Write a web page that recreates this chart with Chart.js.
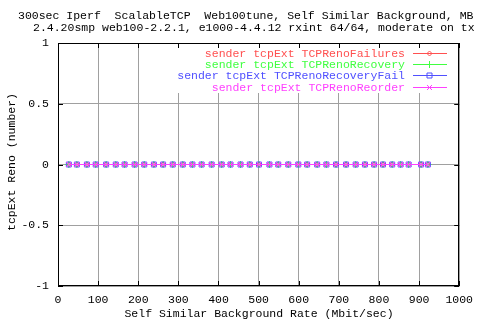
<!DOCTYPE html>
<html>
<head>
<meta charset="utf-8">
<script src="https://cdn.jsdelivr.net/npm/chart.js@4.4.1/dist/chart.umd.min.js"></script>
<style>
  html, body { margin: 0; padding: 0; background: #fff; }
  #wrap { width: 480px; height: 320px; }
</style>
</head>
<body>
<div id="wrap"><canvas id="myChart" width="480" height="320"></canvas></div>
<script>
// Chart data
const titleLines = [
    '300sec Iperf  ScalableTCP  Web100tune, Self Similar Background, MB',
    '2.4.20smp web100-2.2.1, e1000-4.4.12 rxint 64/64, moderate on tx'
];
const xTitle = 'Self Similar Background Rate (Mbit/sec)';
const yTitle = 'tcpExt Reno (number)';

const seriesNames = [
    'sender tcpExt TCPRenoFailures',
    'sender tcpExt TCPRenoRecovery',
    'sender tcpExt TCPRenoRecoveryFail',
    'sender tcpExt TCPRenoReorder'
];

// background rate (Mbit/sec) of each test run
const rates = [27, 47, 72, 94, 120, 144, 166, 191, 215, 239, 262, 286, 311, 335, 358, 383, 408, 430, 455, 478,
    501, 527, 549, 574, 599, 621, 646, 669, 693, 718, 742, 765, 788, 810, 833, 854, 874, 905, 922];

const renoFailures = [0, 0, 0, 0, 0, 0, 0, 0, 0, 0, 0, 0, 0, 0, 0, 0, 0, 0, 0, 0,
    0, 0, 0, 0, 0, 0, 0, 0, 0, 0, 0, 0, 0, 0, 0, 0, 0, 0, 0];
const renoRecovery = [0, 0, 0, 0, 0, 0, 0, 0, 0, 0, 0, 0, 0, 0, 0, 0, 0, 0, 0, 0,
    0, 0, 0, 0, 0, 0, 0, 0, 0, 0, 0, 0, 0, 0, 0, 0, 0, 0, 0];
const renoRecoveryFail = [0, 0, 0, 0, 0, 0, 0, 0, 0, 0, 0, 0, 0, 0, 0, 0, 0, 0, 0, 0,
    0, 0, 0, 0, 0, 0, 0, 0, 0, 0, 0, 0, 0, 0, 0, 0, 0, 0, 0];
const renoReorder = [0, 0, 0, 0, 0, 0, 0, 0, 0, 0, 0, 0, 0, 0, 0, 0, 0, 0, 0, 0,
    0, 0, 0, 0, 0, 0, 0, 0, 0, 0, 0, 0, 0, 0, 0, 0, 0, 0, 0];

const xTicks = [0, 100, 200, 300, 400, 500, 600, 700, 800, 900, 1000];
const yTicks = [-1, -0.5, 0, 0.5, 1];

const colors = ['#ff5050', '#40ff40', '#5050ff', '#ff40ff'];
const styles = ['rectRot', 'cross', 'rect', 'crossRot'];
const radii = [2.5, 3.5, 3.5, 3.5];
const FONT = '11.5px "Liberation Mono", "DejaVu Sans Mono", monospace';

function points(values) {
    return rates.map((r, i) => ({ x: r, y: values[i] }));
}

const allValues = [renoFailures, renoRecovery, renoRecoveryFail, renoReorder];

const datasets = allValues.map((vals, i) => ({
    label: seriesNames[i],
    data: points(vals),
    borderColor: colors[i],
    backgroundColor: 'rgba(0,0,0,0)',
    borderWidth: 1,
    pointStyle: styles[i],
    pointRadius: radii[i],
    pointBorderWidth: 1,
    pointBorderColor: colors[i],
    pointBackgroundColor: 'rgba(0,0,0,0)',
    order: 3 - i,   // later series on top, like gnuplot
    fill: false,
    tension: 0
}));

// draw a legend marker by hand
function marker(ctx, style, x, y, color) {
    ctx.strokeStyle = color;
    ctx.lineWidth = 1;
    ctx.beginPath();
    if (style === 'rectRot') {
        ctx.moveTo(x, y - 2.5); ctx.lineTo(x + 2.5, y); ctx.lineTo(x, y + 2.5); ctx.lineTo(x - 2.5, y); ctx.closePath();
    } else if (style === 'cross') {
        ctx.moveTo(x, y - 3.5); ctx.lineTo(x, y + 3.5);
    } else if (style === 'rect') {
        ctx.rect(x - 2.5, y - 2.5, 5, 5);
    } else {
        ctx.moveTo(x - 2.5, y - 2.5); ctx.lineTo(x + 2.5, y + 2.5);
        ctx.moveTo(x + 2.5, y - 2.5); ctx.lineTo(x - 2.5, y + 2.5);
    }
    ctx.stroke();
}

const gnuplotLook = {
    id: 'gnuplotLook',
    beforeDatasetsDraw(chart) {
        const ctx = chart.ctx;
        const a = chart.chartArea;
        const xs = chart.scales.x, ys = chart.scales.y;
        ctx.save();
        // legend box hides the grid
        ctx.fillStyle = '#fff';
        ctx.fillRect(171, a.top + 1, a.right - 171 - 1, 92 - a.top);
        // frame
        ctx.strokeStyle = '#000';
        ctx.lineWidth = 1;
        ctx.strokeRect(Math.round(a.left) + 0.5, Math.round(a.top) + 0.5,
            Math.round(a.right - a.left) - 1, Math.round(a.bottom - a.top) - 1);
        // inward tick marks on all sides
        ctx.beginPath();
        xTicks.forEach(v => {
            const px = Math.round(xs.getPixelForValue(v)) + 0.5;
            ctx.moveTo(px, a.top); ctx.lineTo(px, a.top + 5);
            ctx.moveTo(px, a.bottom); ctx.lineTo(px, a.bottom - 5);
        });
        yTicks.forEach(v => {
            const py = Math.round(ys.getPixelForValue(v)) + 0.5;
            ctx.moveTo(a.left, py); ctx.lineTo(a.left + 5, py);
            ctx.moveTo(a.right, py); ctx.lineTo(a.right - 5, py);
        });
        ctx.stroke();
        ctx.restore();
    },
    afterDatasetsDraw(chart) {
        const ctx = chart.ctx;
        ctx.save();
        ctx.font = FONT;
        ctx.textBaseline = 'middle';
        ctx.textAlign = 'right';
        const rows = [53, 64, 75, 87];
        seriesNames.forEach((name, i) => {
            const y = rows[i];
            ctx.fillStyle = colors[i];
            ctx.fillText(name, 405, y + 1);
            ctx.strokeStyle = colors[i];
            ctx.lineWidth = 1;
            ctx.beginPath();
            ctx.moveTo(413, y + 0.5); ctx.lineTo(447, y + 0.5);
            ctx.stroke();
            marker(ctx, styles[i], 429.5, y + 0.5, colors[i]);
        });
        ctx.restore();
    },
    afterDraw(chart) {
        const ctx = chart.ctx;
        ctx.save();
        ctx.font = FONT;
        ctx.fillStyle = '#000';
        ctx.textBaseline = 'middle';
        ctx.textAlign = 'left';
        ctx.fillText(titleLines[0], 18, 16);
        ctx.fillText(titleLines[1], 33, 28);
        ctx.textAlign = 'center';
        ctx.fillText(xTitle, 259, 314);
        ctx.translate(12, 162);
        ctx.rotate(-Math.PI / 2);
        ctx.fillText(yTitle, 0, 0);
        ctx.restore();
    }
};

const ctx = document.getElementById('myChart').getContext('2d');
const chart = new Chart(ctx, {
    type: 'line',
    data: { datasets: datasets },
    options: {
        responsive: false,
        animation: false,
        events: [],
        layout: { padding: { top: 43, right: 20, left: 0, bottom: 0 } },
        plugins: {
            legend: { display: false },
            title: { display: false },
            tooltip: { enabled: false }
        },
        scales: {
            x: {
                type: 'linear',
                min: 0,
                max: 1000,
                afterFit: s => { s.height = 34; },
                afterBuildTicks: s => { s.ticks = xTicks.map(v => ({ value: v })); },
                grid: { color: '#a0a0a0', drawTicks: false, lineWidth: 1 },
                border: { display: false },
                ticks: {
                    color: '#000',
                    font: { family: '"Liberation Mono", "DejaVu Sans Mono", monospace', size: 11.5 },
                    padding: 7,
                    maxRotation: 0,
                    callback: v => String(v)
                }
            },
            y: {
                type: 'linear',
                min: -1,
                max: 1,
                afterFit: s => { s.width = 58; },
                afterBuildTicks: s => { s.ticks = yTicks.map(v => ({ value: v })); },
                grid: { color: '#a0a0a0', drawTicks: false, lineWidth: 1 },
                border: { display: false },
                ticks: {
                    color: '#000',
                    font: { family: '"Liberation Mono", "DejaVu Sans Mono", monospace', size: 11.5 },
                    padding: 9,
                    callback: v => String(v)
                }
            }
        }
    },
    plugins: [gnuplotLook]
});
</script>
</body>
</html>
